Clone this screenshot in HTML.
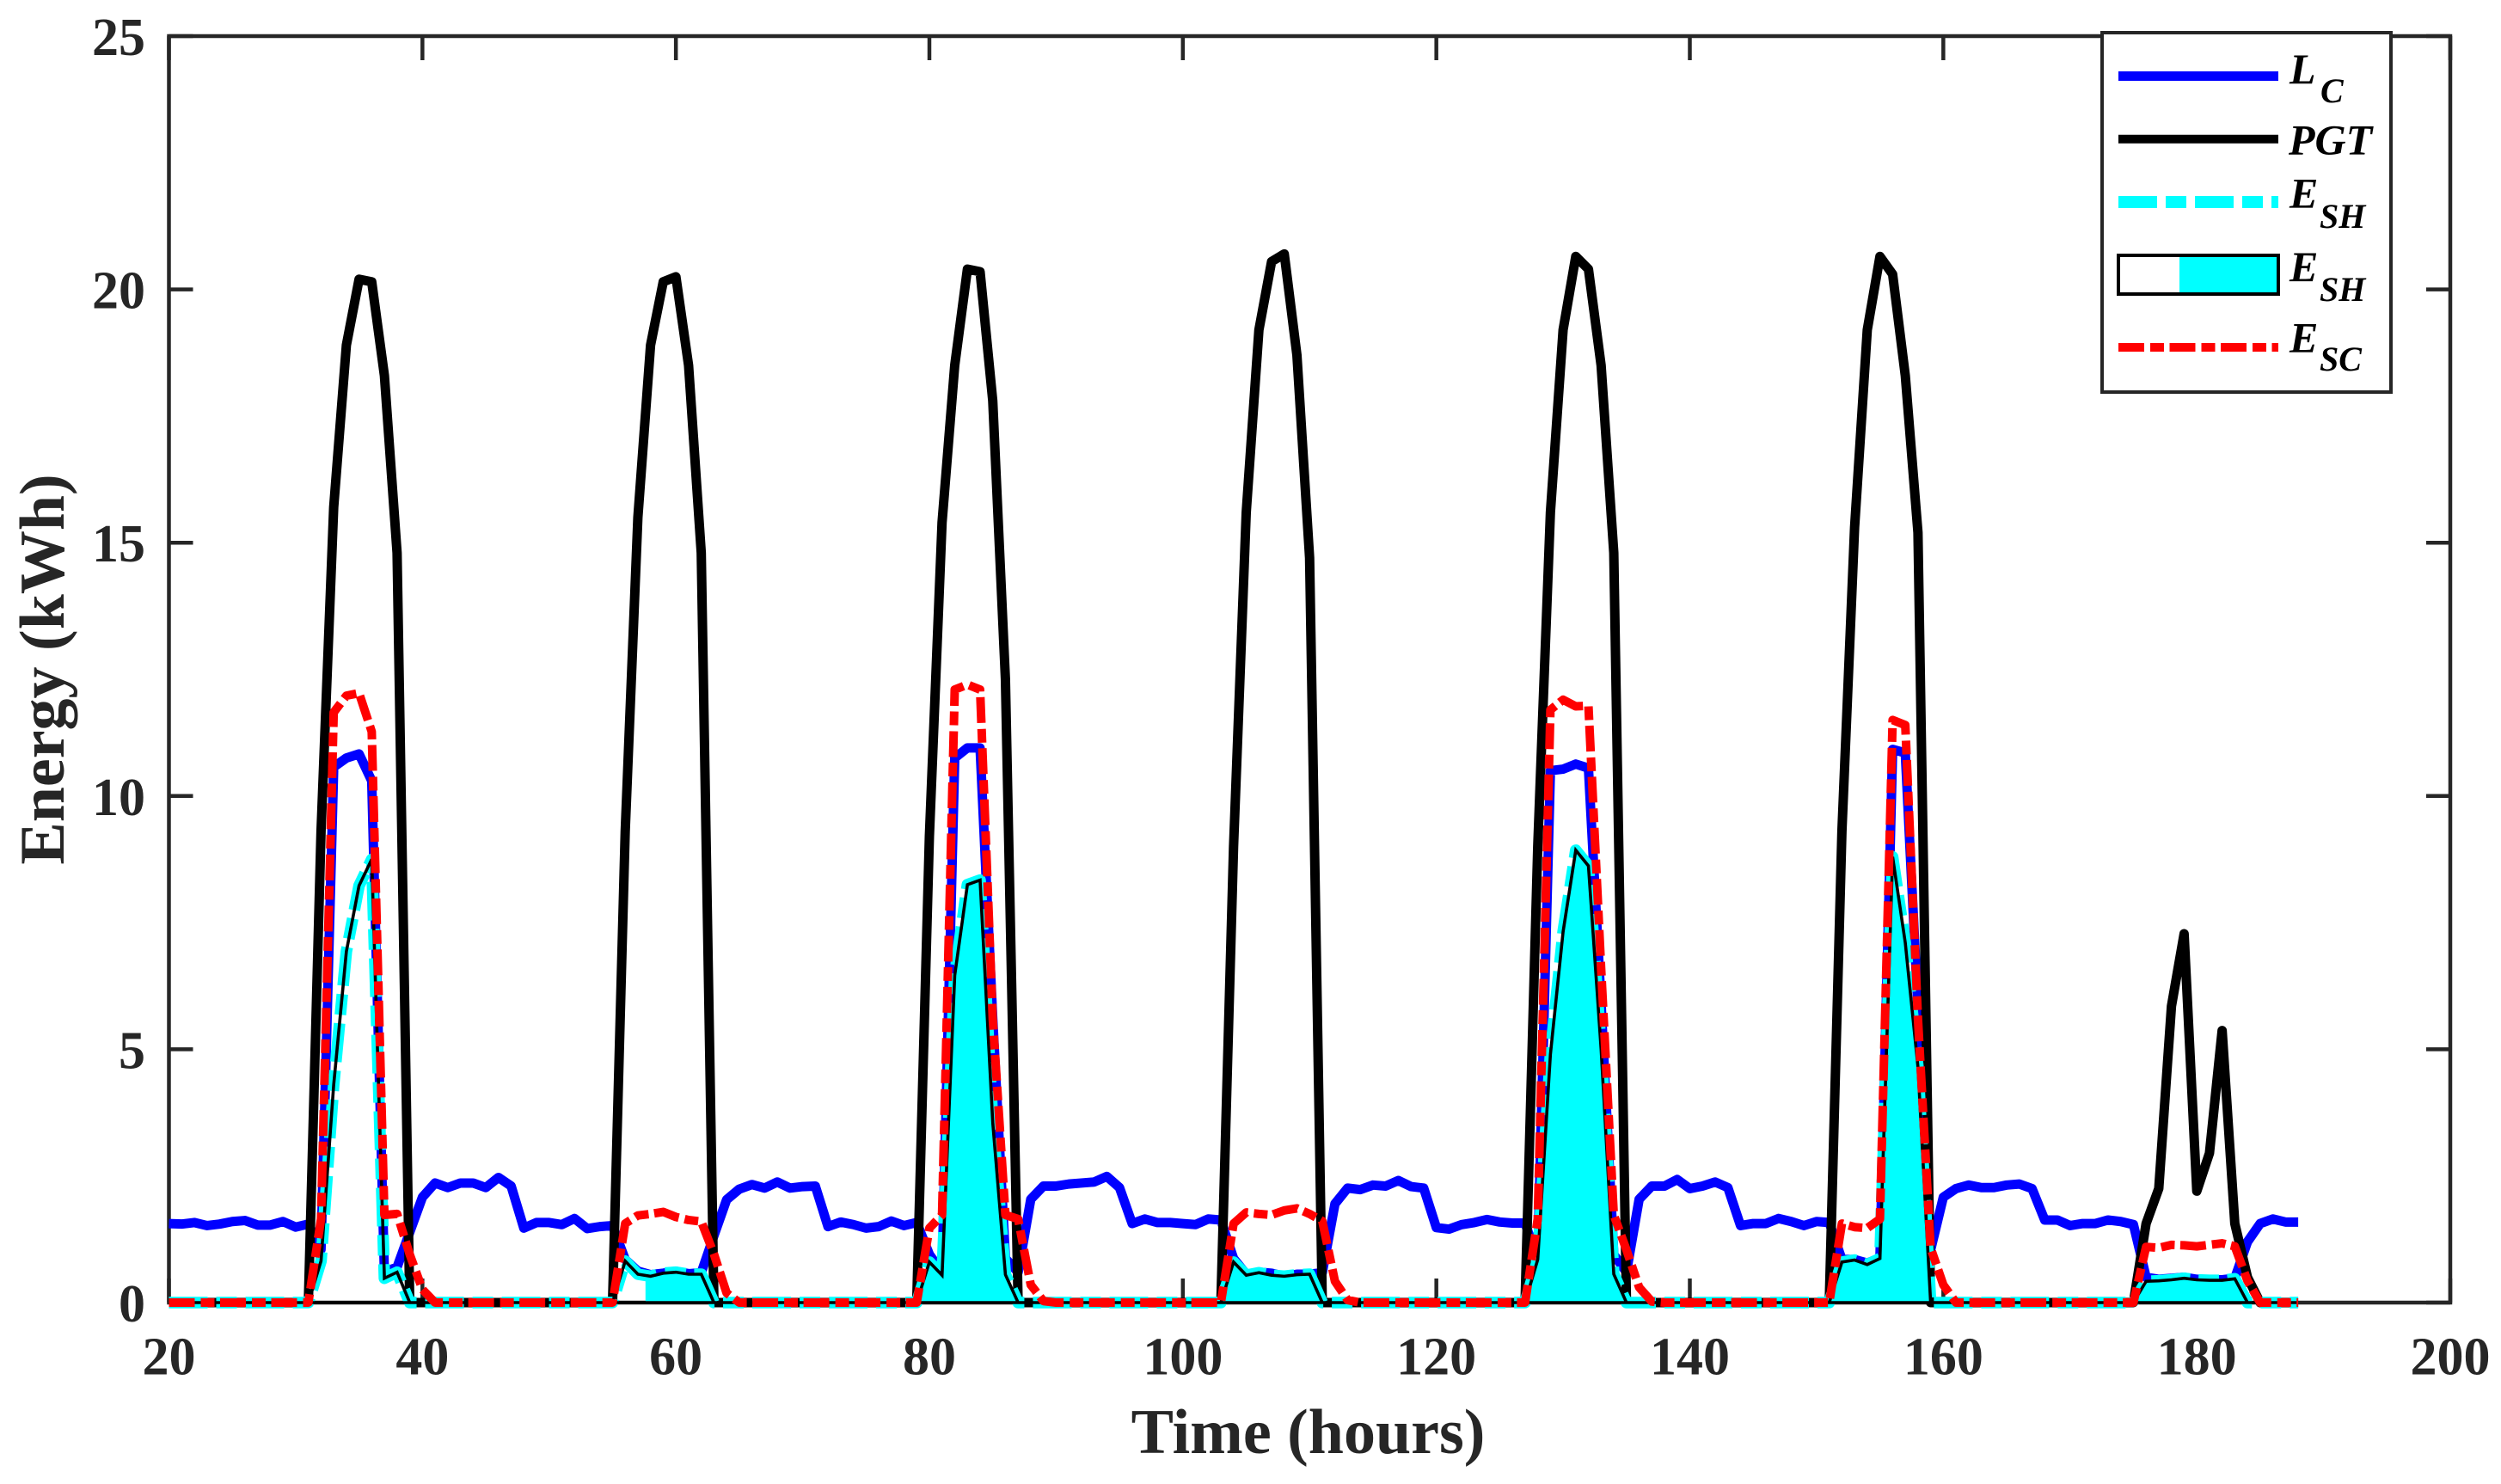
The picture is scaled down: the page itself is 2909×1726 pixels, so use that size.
<!DOCTYPE html>
<html lang="en">
<head>
<meta charset="utf-8">
<title>Energy over time</title>
<style>
  html, body { margin: 0; padding: 0; background: #ffffff; }
  svg { display: block; }
  text { font-family: "Liberation Serif", "Times New Roman", serif; font-weight: bold; }
  .tick-label { font-size: 62px; fill: #262626; }
  .axis-title { font-size: 74px; fill: #262626; }
  .legend-text { font-size: 50px; font-style: italic; fill: #000000; }
  .legend-sub { font-size: 40px; }
</style>
</head>
<body>
<svg id="chart" xmlns="http://www.w3.org/2000/svg" width="2909" height="1726" viewBox="0 0 2909 1726">
  <rect x="0" y="0" width="2909" height="1726" fill="#ffffff"/>
  <g id="ticks"></g>
  <rect x="196.5" y="42" width="2653.5" height="1473" fill="none" stroke="#262626" stroke-width="4.5"/>
  <g id="series"></g>
  <g id="tick-labels"></g>
  <text class="axis-title" x="1521.5" y="1690" text-anchor="middle">Time (hours)</text>
  <text class="axis-title" transform="translate(74 778.5) rotate(-90)" text-anchor="middle">Energy (kWh)</text>

  <g>
    <rect x="2445" y="38" width="336" height="418" fill="#ffffff" stroke="#262626" stroke-width="4"/>
    <line x1="2464" x2="2650" y1="88.5" y2="88.5" stroke="#0000ff" stroke-width="11"/>
    <text class="legend-text" x="2663" y="97">L<tspan class="legend-sub" x="2699" y="119">C</tspan></text>
    <line x1="2464" x2="2650" y1="161.7" y2="161.7" stroke="#000000" stroke-width="10"/>
    <text class="legend-text" x="2662" y="179.5">PGT</text>
    <line x1="2464" x2="2650" y1="235" y2="235" stroke="#00ffff" stroke-width="14" stroke-dasharray="45 10 24 10"/>
    <text class="legend-text" x="2663" y="241.7">E<tspan class="legend-sub" x="2698" y="265">SH</tspan></text>
    <rect x="2464" y="297" width="71" height="45" fill="#ffffff"/>
    <rect x="2535" y="297" width="115" height="45" fill="#00ffff"/>
    <rect x="2464" y="297" width="186" height="45" fill="none" stroke="#000000" stroke-width="4"/>
    <text class="legend-text" x="2663" y="327">E<tspan class="legend-sub" x="2698" y="350">SH</tspan></text>
    <line x1="2464" x2="2650" y1="404" y2="404" stroke="#ff0000" stroke-width="10" stroke-dasharray="30 7 16 6.5"/>
    <text class="legend-text" x="2663" y="409.3">E<tspan class="legend-sub" x="2698" y="431">SC</tspan></text>
  </g>
</svg>

<script>
const firstHour = 20;
const xTicks = [20, 40, 60, 80, 100, 120, 140, 160, 180, 200];
const yTicks = [0, 5, 10, 15, 20, 25];
const areaFillStartHour = 57.6;

const lcValues = [
1.56,1.55,1.58,1.52,1.55,1.6,1.62,1.53,1.53,1.6,
1.49,1.55,1.05,10.57,10.75,10.83,10.3,.6,.7,1.39,
2.08,2.36,2.27,2.36,2.36,2.27,2.47,2.3,1.47,1.58,
1.58,1.54,1.66,1.46,1.5,1.52,.85,.62,.55,.58,
.62,.57,.59,1.32,2.03,2.24,2.33,2.26,2.38,2.26,
2.29,2.3,1.5,1.59,1.54,1.47,1.5,1.61,1.52,1.58,
.95,.6,10.75,10.95,10.95,5.6,.87,.6,2.04,2.3,
2.3,2.34,2.36,2.38,2.49,2.27,1.56,1.65,1.58,1.58,
1.56,1.54,1.65,1.63,.87,.56,.6,.58,.52,.56,
.56,.59,1.95,2.26,2.23,2.32,2.3,2.41,2.29,2.26,
1.48,1.45,1.54,1.58,1.64,1.59,1.57,1.57,.85,10.5,
10.53,10.63,10.55,5.9,.95,.6,2.04,2.3,2.3,2.43,
2.25,2.3,2.38,2.27,1.52,1.56,1.56,1.66,1.6,1.52,
1.6,1.58,.85,.85,.78,.88,10.92,10.85,5.8,1.04,
2.08,2.25,2.32,2.27,2.27,2.32,2.34,2.25,1.63,1.63,
1.52,1.56,1.56,1.63,1.6,1.54,.5,.46,.48,.5,
.46,.45,.45,.48,1.2,1.56,1.65,1.59,1.59];

const pgtValues = [
0,0,0,0,0,0,0,0,0,0,
0,0,9.3,15.7,18.9,20.2,20.15,18.3,14.8,0,
0,0,0,0,0,0,0,0,0,0,
0,0,0,0,0,0,9.3,15.5,18.9,20.15,
20.25,18.5,14.8,0,0,0,0,0,0,0,
0,0,0,0,0,0,0,0,0,0,
9.2,15.4,18.5,20.4,20.35,17.8,12.3,0,0,0,
0,0,0,0,0,0,0,0,0,0,
0,0,0,0,9,15.6,19.2,20.55,20.7,18.7,
14.7,0,0,0,0,0,0,0,0,0,
0,0,0,0,0,0,0,0,9,15.6,
19.2,20.65,20.4,18.5,14.8,0,0,0,0,0,
0,0,0,0,0,0,0,0,0,0,
0,0,9.3,15.3,19.2,20.65,20.3,18.3,15.2,0,
0,0,0,0,0,0,0,0,0,0,
0,0,0,0,0,0,1.56,2.25,5.85,7.28,
2.2,2.95,5.37,1.56,.5,0,0,0,0];

const eshValues = [
0,0,0,0,0,0,0,0,0,0,
0,0,.82,4.3,6.93,8.23,8.75,.48,.6,0,
0,0,0,0,0,0,0,0,0,0,
0,0,0,0,0,0,.82,.56,.52,.58,
.6,.56,.56,0,0,0,0,0,0,0,
0,0,0,0,0,0,0,0,0,0,
.8,.54,6.46,8.25,8.34,3.55,.55,0,0,0,
0,0,0,0,0,0,0,0,0,0,
0,0,0,0,.8,.54,.59,.54,.52,.55,
.56,0,0,0,0,0,0,0,0,0,
0,0,0,0,0,0,0,0,.85,4.9,
7.32,8.93,8.62,5,.56,0,0,0,0,0,
0,0,0,0,0,0,0,0,0,0,
0,0,.8,.84,.75,.87,8.8,7.1,4.65,0,
0,0,0,0,0,0,0,0,0,0,
0,0,0,0,0,0,.42,.43,.45,.48,
.45,.44,.44,.47,0,0,0,0,0];

const escValues = [
0,0,0,0,0,0,0,0,0,0,
0,0,1.65,11.65,11.98,12.03,11.27,1.73,1.75,.95,
.26,0,0,0,0,0,0,0,0,0,
0,0,0,0,0,0,1.56,1.72,1.75,1.79,
1.69,1.63,1.6,.96,.19,0,0,0,0,0,
0,0,0,0,0,0,0,0,0,0,
1.47,1.73,12.1,12.2,12.1,5.6,1.73,1.65,.35,.03,
0,0,0,0,0,0,0,0,0,0,
0,0,0,0,1.56,1.78,1.75,1.73,1.82,1.86,
1.75,1.61,.42,.05,0,0,0,0,0,0,
0,0,0,0,0,0,0,0,1.65,11.7,
11.9,11.77,11.78,6.6,1.73,1.04,.3,.02,0,0,
0,0,0,0,0,0,0,0,0,0,
0,0,1.56,1.49,1.47,1.65,11.5,11.4,5.6,1.08,
.35,0,0,0,0,0,0,0,0,0,
0,0,0,0,0,0,1.1,1.08,1.14,1.13,
1.11,1.14,1.17,1.11,.43,0,0,0,0];

const NS = 'http://www.w3.org/2000/svg';
const plotLeft = 196.5, plotRight = 2850, plotTop = 42, plotBottom = 1515;
const xMin = 20, xMax = 200, yMin = 0, yMax = 25;

function xScale(h) { return plotLeft + (h - xMin) / (xMax - xMin) * (plotRight - plotLeft); }
function yScale(v) { return plotBottom - (v - yMin) / (yMax - yMin) * (plotBottom - plotTop); }

function make(tag, attrs) {
  const el = document.createElementNS(NS, tag);
  for (const k in attrs) el.setAttribute(k, attrs[k]);
  return el;
}

function linePoints(values) {
  return values.map(function (v, i) {
    return xScale(firstHour + i).toFixed(2) + ',' + yScale(v).toFixed(2);
  }).join(' ');
}

const tickGroup = document.getElementById('ticks');
const labelGroup = document.getElementById('tick-labels');
const seriesGroup = document.getElementById('series');
const tickLength = 28;

xTicks.forEach(function (t) {
  const x = xScale(t);
  [[plotBottom, plotBottom - tickLength], [plotTop, plotTop + tickLength]].forEach(function (p) {
    const tick = make('line', { x1: x, x2: x, y1: p[0], y2: p[1], stroke: '#262626', 'stroke-width': 4.5 });
    
    
    tickGroup.appendChild(tick);
  });
  const label = make('text', { x: x, y: 1598.5, 'text-anchor': 'middle', class: 'tick-label' });
  
  
  label.textContent = t;
  labelGroup.appendChild(label);
});

yTicks.forEach(function (t) {
  const y = yScale(t);
  [[plotLeft, plotLeft + tickLength], [plotRight, plotRight - tickLength]].forEach(function (p) {
    const tick = make('line', { x1: p[0], x2: p[1], y1: y, y2: y, stroke: '#262626', 'stroke-width': 4.5 });
    
    
    tickGroup.appendChild(tick);
  });
  const label = make('text', { x: 169, y: y + 22, 'text-anchor': 'end', class: 'tick-label' });
  
  
  label.textContent = t;
  labelGroup.appendChild(label);
});

function addLine(values, color, width, dash) {
  const attrs = { points: linePoints(values), fill: 'none', stroke: color, 'stroke-width': width, 'stroke-linejoin': 'round' };
  if (dash) attrs['stroke-dasharray'] = dash;
  const line = make('polyline', attrs);
  seriesGroup.appendChild(line);
  return line;
}

const lcLine = addLine(lcValues, '#0000ff', 11);



const pgtLine = addLine(pgtValues, '#000000', 11);



const eshLine = addLine(eshValues, '#00ffff', 13.5, '45 10 24 10');



const defs = make('defs', {});
const clip = make('clipPath', { id: 'area-clip' });
clip.appendChild(make('rect', {
  x: xScale(areaFillStartHour), y: plotTop,
  width: plotRight - xScale(areaFillStartHour), height: plotBottom - plotTop
}));
defs.appendChild(clip);
seriesGroup.appendChild(defs);

const areaPoints = linePoints(eshValues) + ' ' +
  xScale(firstHour + eshValues.length - 1).toFixed(2) + ',' + yScale(0).toFixed(2) + ' ' +
  xScale(firstHour).toFixed(2) + ',' + yScale(0).toFixed(2);

const eshFill = make('polygon', { points: areaPoints, fill: '#00ffff', stroke: 'none', 'clip-path': 'url(#area-clip)' });


seriesGroup.appendChild(eshFill);

const eshOutline = make('polygon', { points: areaPoints, fill: 'none', stroke: '#000000', 'stroke-width': 3.6, 'stroke-linejoin': 'miter' });


seriesGroup.appendChild(eshOutline);

const escLine = addLine(escValues, '#ff0000', 10, '30 7 16 6.5');


</script>
</body>
</html>
